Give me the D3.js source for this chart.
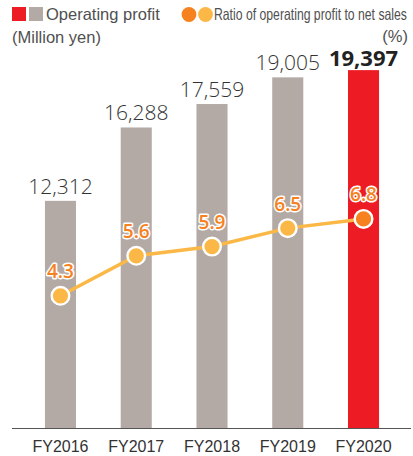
<!DOCTYPE html>
<html>
<head>
<meta charset="utf-8">
<script src="https://cdn.jsdelivr.net/npm/d3@7"></script>
<style>
  html, body { margin: 0; padding: 0; background: #fff; }
  svg { display: block; }
</style>
</head>
<body>
<svg id="chart" width="413" height="456"></svg>
<script>
// Fiscal years and their figures
const years = ["FY2016", "FY2017", "FY2018", "FY2019", "FY2020"];
const operatingProfit = [12312, 16288, 17559, 19005, 19397];   // million yen
const profitRatio = [4.3, 5.6, 5.9, 6.5, 6.8];                   // % of net sales
const profitLabels = ["12,312", "16,288", "17,559", "19,005", "19,397"];
const ratioLabels = ["4.3", "5.6", "5.9", "6.5", "6.8"];
const highlightYear = "FY2020";

const colors = {
  bar: "#b3a9a5",
  barHighlight: "#ed1c24",
  line: "#fbb847",
  dot: "#fbb847",
  dotHighlight: "#f5821f",
  ratioText: "#f5821f",
  text: "#333333",
  legendText: "#505050",
  axis: "#555555"
};

const svg = d3.select("#chart");
const plotBottom = 428;
const plotTop = 59;

const x = d3.scaleBand()
  .domain(years)
  .range([22.6, 401.4])
  .paddingInner(0.59)
  .paddingOuter(0.295);

const y = d3.scaleLinear().domain([0, 20000]).range([plotBottom, plotTop]);
const y2 = d3.scaleLinear().domain([0, 12]).range([plotBottom, plotTop]);

const data = years.map((yr, i) => ({
  year: yr,
  profit: operatingProfit[i],
  ratio: profitRatio[i],
  profitLabel: profitLabels[i],
  ratioLabel: ratioLabels[i],
  hi: yr === highlightYear
}));

// Bars
svg.append("g").selectAll("rect")
  .data(data)
  .join("rect")
  .attr("x", d => x(d.year))
  .attr("y", d => y(d.profit))
  .attr("width", x.bandwidth())
  .attr("height", d => plotBottom - y(d.profit))
  .attr("fill", d => d.hi ? colors.barHighlight : colors.bar);

// Baseline axis
const xAxis = d3.axisBottom(x).tickSize(0).tickPadding(13);
const gx = svg.append("g")
  .attr("transform", `translate(0,${plotBottom})`)
  .call(xAxis);
gx.select(".domain").remove();
gx.append("line")
  .attr("x1", 12).attr("x2", 411)
  .attr("y1", 0.5).attr("y2", 0.5)
  .attr("stroke", colors.axis).attr("stroke-width", 1);
gx.selectAll(".tick text")
  .attr("font-family", "'Liberation Sans', Arial, sans-serif")
  .attr("font-size", 16)
  .attr("fill", colors.text);

// Profit value labels
svg.append("g").selectAll("text")
  .data(data)
  .join("text")
  .attr("x", d => x(d.year) + x.bandwidth() / 2)
  .attr("y", d => y(d.profit) - (d.hi ? 4 : 7))
  .attr("text-anchor", "middle")
  .attr("font-family", "'Open Sans', sans-serif")
  .attr("font-weight", d => d.hi ? 700 : 300)
  .attr("font-size", d => d.hi ? 22 : 21)
  .attr("fill", d => d.hi ? "#222" : colors.text)
  .text(d => d.profitLabel);

// Ratio line
const line = d3.line()
  .x(d => x(d.year) + x.bandwidth() / 2)
  .y(d => y2(d.ratio));
svg.append("path")
  .datum(data)
  .attr("d", line)
  .attr("fill", "none")
  .attr("stroke", colors.line)
  .attr("stroke-width", 3.5);

// Ratio dots
svg.append("g").selectAll("circle")
  .data(data)
  .join("circle")
  .attr("cx", d => x(d.year) + x.bandwidth() / 2)
  .attr("cy", d => y2(d.ratio))
  .attr("r", 8.8)
  .attr("fill", d => d.hi ? colors.dotHighlight : colors.dot)
  .attr("stroke", "#fff")
  .attr("stroke-width", 2.4);

// Ratio value labels with white halo
svg.append("g").selectAll("text")
  .data(data)
  .join("text")
  .attr("x", d => x(d.year) + x.bandwidth() / 2)
  .attr("y", d => y2(d.ratio) - 17.5)
  .attr("text-anchor", "middle")
  .attr("font-family", "'Open Sans', sans-serif")
  .attr("font-weight", 600)
  .attr("font-size", 19)
  .attr("fill", colors.ratioText)
  .attr("stroke", "#fff")
  .attr("stroke-width", 3)
  .attr("paint-order", "stroke")
  .attr("stroke-linejoin", "round")
  .text(d => d.ratioLabel);

// Legend
const legend = svg.append("g")
  .attr("font-family", "'Liberation Sans', Arial, sans-serif")
  .attr("fill", colors.legendText);
legend.append("rect").attr("x", 12).attr("y", 7).attr("width", 14).attr("height", 14).attr("fill", colors.barHighlight);
legend.append("rect").attr("x", 29).attr("y", 7).attr("width", 14).attr("height", 14).attr("fill", colors.bar);
legend.append("text").attr("x", 46).attr("y", 20).attr("font-size", 16.5).text("Operating profit");
legend.append("circle").attr("cx", 189).attr("cy", 14.5).attr("r", 7.4).attr("fill", colors.dotHighlight);
legend.append("circle").attr("cx", 205.5).attr("cy", 14.5).attr("r", 7.4).attr("fill", colors.dot);

// Condensed legend label: squeeze horizontally to fit the space at the right
const ratioLegend = legend.append("text")
  .attr("font-size", 16.5)
  .text("Ratio of operating profit to net sales");
const naturalWidth = ratioLegend.node().getComputedTextLength();
const targetWidth = 193;
ratioLegend.attr("transform", `translate(214,20) scale(${targetWidth / naturalWidth},1)`);

legend.append("text").attr("x", 12).attr("y", 43).attr("font-size", 16.5).text("(Million yen)");
legend.append("text").attr("x", 408).attr("y", 42).attr("font-size", 16.5).attr("text-anchor", "end").text("(%)");
</script>
</body>
</html>
